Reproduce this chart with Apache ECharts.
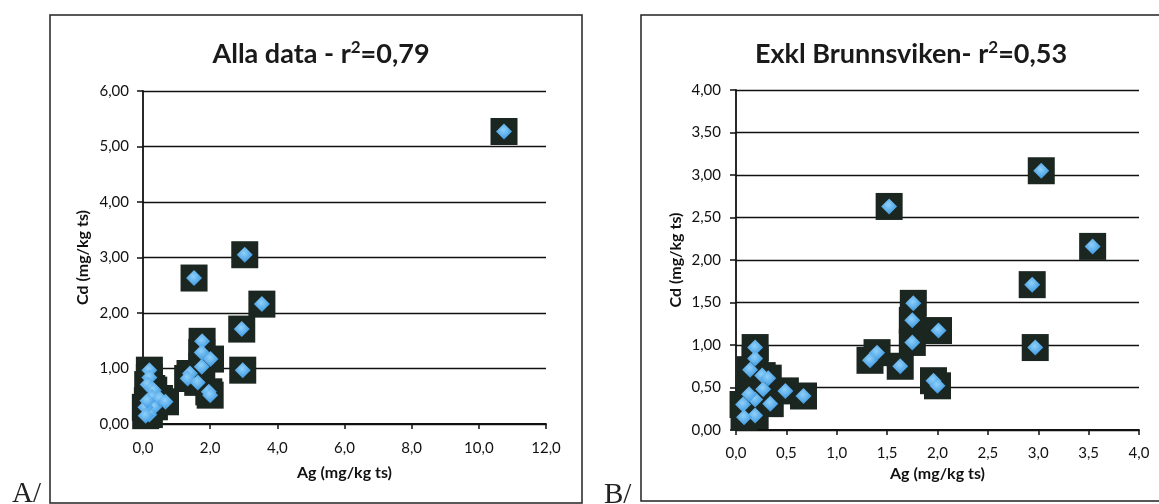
<!DOCTYPE html>
<html>
<head>
<meta charset="utf-8">
<script src="https://cdn.jsdelivr.net/npm/echarts@6/dist/echarts.min.js"></script>
<style>
html,body{margin:0;padding:0;background:#fff;}
#c{width:1159px;height:504px;}
</style>
</head>
<body>
<div id="c"></div>
<script>
// Chart B: all sites except Brunnsviken
const agExkl = [3.03, 1.52, 3.54, 2.94, 2.97, 1.76, 1.75, 2.01, 1.75, 1.40, 1.33, 1.63, 1.96, 2.00,
                0.19, 0.19, 0.14, 0.26, 0.32, 0.27, 0.19, 0.34, 0.49, 0.67, 0.19, 0.07, 0.08, 0.13];
const cdExkl = [3.05, 2.63, 2.16, 1.71, 0.97, 1.49, 1.29, 1.17, 1.03, 0.91, 0.82, 0.75, 0.58, 0.52,
                0.97, 0.84, 0.71, 0.64, 0.61, 0.48, 0.36, 0.31, 0.46, 0.40, 0.17, 0.30, 0.15, 0.42];
// Brunnsviken (only in chart A)
const agBrunnsviken = [10.75];
const cdBrunnsviken = [5.27];

const titleA = ['Alla data - r', '2', '=0,79'];
const titleB = ['Exkl Brunnsviken- r', '2', '=0,53'];
const axisNameX = 'Ag (mg/kg ts)';
const axisNameY = 'Cd (mg/kg ts)';
const panelLabels = ['A/', 'B/'];

const agAll = agExkl.concat(agBrunnsviken);
const cdAll = cdExkl.concat(cdBrunnsviken);
const pairs = (xs, ys) => xs.map((x, i) => [x, ys[i]]);
const dataA = pairs(agAll, cdAll);
const dataB = pairs(agExkl, cdExkl);

const FONT = 'Lato';
const fmt = d => v => v.toFixed(d).replace('.', ',');

function xAxis(grid, max, interval, gap, margin) {
  return {
    type: 'value', gridIndex: grid, min: 0, max: max, interval: interval,
    name: axisNameX, nameLocation: 'middle', nameGap: gap,
    nameTextStyle: {fontFamily: FONT, fontWeight: 'bold', fontSize: 16, color: '#111'},
    axisLine: {show: true, onZero: false, lineStyle: {color: '#111', width: 1.8}},
    axisTick: {show: true, length: 5, lineStyle: {color: '#111', width: 1.5}},
    axisLabel: {formatter: fmt(1), fontFamily: FONT, fontSize: 15, color: '#111', margin: margin},
    splitLine: {show: false}
  };
}
function yAxis(grid, max, interval, gap, margin) {
  return {
    type: 'value', gridIndex: grid, min: 0, max: max, interval: interval,
    name: axisNameY, nameLocation: 'middle', nameGap: gap,
    nameTextStyle: {fontFamily: FONT, fontWeight: 'bold', fontSize: 16, color: '#111'},
    axisLine: {show: true, lineStyle: {color: '#111', width: 1.8}},
    axisTick: {show: true, length: 6, lineStyle: {color: '#111', width: 1.5}},
    axisLabel: {formatter: fmt(2), fontFamily: FONT, fontSize: 15, color: '#111', margin: margin},
    splitLine: {show: true, lineStyle: {color: '#111', width: 1.3}}
  };
}
const squareStyle = {color: '#1b2620', opacity: 1};
const diamondStyle = {
  opacity: 1,
  color: {type: 'radial', x: 0.45, y: 0.4, r: 0.7,
          colorStops: [{offset: 0, color: '#8fd0fa'}, {offset: 1, color: '#2e8fdc'}]}
};
function markerSeries(grid, data) {
  return [
    {type: 'scatter', xAxisIndex: grid, yAxisIndex: grid, data: data, symbol: 'rect',
     symbolSize: 27, itemStyle: squareStyle, z: 2, silent: true},
    {type: 'scatter', xAxisIndex: grid, yAxisIndex: grid, data: data, symbol: 'diamond',
     symbolSize: [16, 16], itemStyle: diamondStyle, z: 3, silent: true}
  ];
}
const titleRich = {
  a: {fontFamily: FONT, fontWeight: 'bold', fontSize: 27, color: '#1a1a1a', lineHeight: 30},
  s: {fontFamily: FONT, fontWeight: 'bold', fontSize: 17, color: '#1a1a1a', lineHeight: 30,
      verticalAlign: 'top', padding: [0, 0, 10, 0]}
};
const richTitle = parts => '{a|' + parts[0] + '}{s|' + parts[1] + '}{a|' + parts[2] + '}';

const chart = echarts.init(document.getElementById('c'), null, {renderer: 'canvas'});
chart.setOption({
  animation: false,
  backgroundColor: '#fff',
  title: [
    {text: richTitle(titleA), left: 316, top: 34, textAlign: 'center',
     textStyle: {rich: titleRich}},
    {text: richTitle(titleB), left: 906, top: 34, textAlign: 'center',
     textStyle: {rich: titleRich}}
  ],
  grid: [
    {left: 143, right: 1159 - 546, top: 91, bottom: 504 - 424},
    {left: 736, right: 1159 - 1139, top: 90, bottom: 504 - 430}
  ],
  xAxis: [xAxis(0, 12, 2, 41, 17), xAxis(1, 4, 0.5, 35, 16)],
  yAxis: [yAxis(0, 6, 1, 52, 14), yAxis(1, 4, 0.5, 52, 15)],
  series: markerSeries(0, dataA).concat(markerSeries(1, dataB)),
  graphic: [
    {type: 'rect', shape: {x: 50, y: 15, width: 532, height: 488},
     style: {fill: 'none', stroke: '#222', lineWidth: 1.5}, z: 0, silent: true},
    {type: 'rect', shape: {x: 641, y: 15, width: 540, height: 486},
     style: {fill: 'none', stroke: '#222', lineWidth: 1.5}, z: 0, silent: true},
    {type: 'text', left: 12, top: 480,
     style: {text: panelLabels[0], font: '29px "Liberation Serif"', fill: '#222'}},
    {type: 'text', left: 604, top: 481,
     style: {text: panelLabels[1], font: '29px "Liberation Serif"', fill: '#222'}}
  ]
});
</script>
</body>
</html>
